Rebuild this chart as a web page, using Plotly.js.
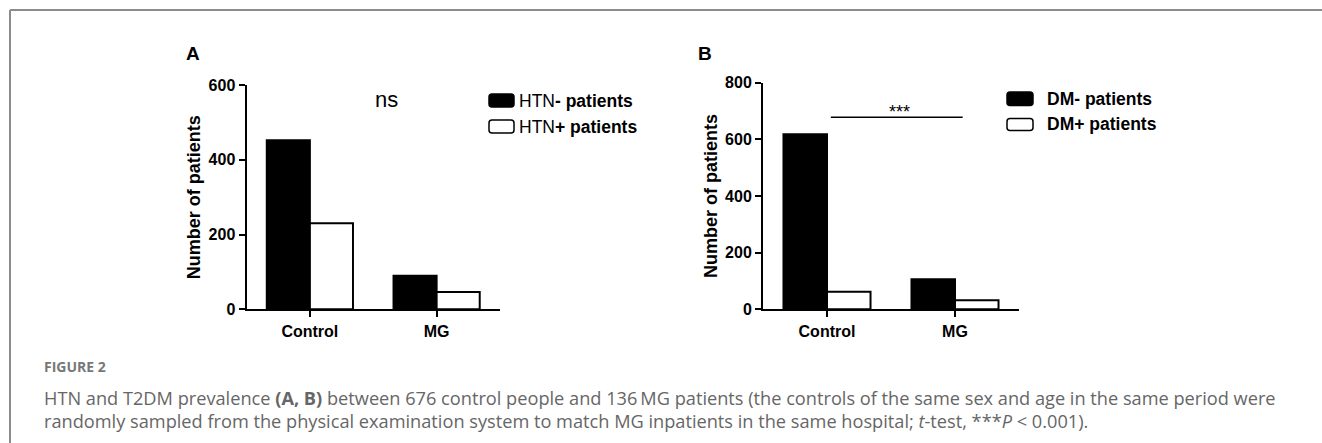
<!DOCTYPE html>
<html>
<head>
<meta charset="utf-8">
<script src="https://cdn.plot.ly/plotly-3.0.1.min.js"></script>
<style>
  html, body { margin: 0; padding: 0; background: #fff; }
  #chart { width: 1322px; height: 443px; }
</style>
</head>
<body>
<div id="chart"></div>
<script>
// ---- data ----
const categories = ['Control', 'MG'];
const htnNeg = [452, 90];
const htnPos = [230, 46];
const dmNeg = [618, 106];
const dmPos = [62, 32];
const namesA = ['HTN<b>- patients</b>', 'HTN<b>+ patients</b>'];
const namesB = ['<b>DM- patients</b>', '<b>DM+ patients</b>'];
const ticksA = [0, 200, 400, 600];
const ticksB = [0, 200, 400, 600, 800];
const panelLabels = ['A', 'B'];
const sigA = 'ns';
const sigB = '***';
const sigBSpan = [0.03, 1.06];
const sigBLevel = 678;
const yTitle = 'Number of patients';
const captionHead = 'FIGURE 2';
const captionLines = [
  'HTN and T2DM prevalence <b>(A, B)</b> between 676 control people and 136\u2009MG patients (the controls of the same sex and age in the same period were',
  'randomly sampled from the physical examination system to match MG inpatients in the same hospital; <i>t</i>-test, ***<i>P</i> &lt; 0.001).'
];

// ---- helpers (pixel -> paper) ----
const W = 1322, H = 443;
const px = v => v / W;
const py = v => 1 - v / H;
const AX = "Liberation Sans, Arial, sans-serif";
const CAP = "Open Sans, Lato, sans-serif";

function barTrace(y, name, fill, xa, ya) {
  return {
    type: 'bar', x: categories, y: y, name: name,
    xaxis: xa, yaxis: ya, showlegend: false,
    marker: { color: fill, line: { color: '#000', width: 2 } },
    hoverinfo: 'x+y'
  };
}

const data = [
  barTrace(htnNeg, namesA[0], '#000', 'x', 'y'),
  barTrace(htnPos, namesA[1], '#fff', 'x', 'y'),
  barTrace(dmNeg, namesB[0], '#000', 'x2', 'y2'),
  barTrace(dmPos, namesB[1], '#fff', 'x2', 'y2')
];

function xAxis(domain, anchor) {
  return {
    domain: domain, anchor: anchor, type: 'category', range: [-0.5, 1.5],
    showline: true, linecolor: '#000', linewidth: 2, showgrid: false, zeroline: false,
    ticks: 'outside', ticklen: 6, tickwidth: 2, tickcolor: '#000',
    tickfont: { family: AX, size: 16, color: '#000', weight: 'bold' },
    fixedrange: true
  };
}
function yAxis(domain, anchor, ticks) {
  return {
    domain: domain, anchor: anchor, range: [0, ticks[ticks.length - 1]],
    tickvals: ticks, ticktext: ticks.map(String),
    showline: true, linecolor: '#000', linewidth: 2, showgrid: false, zeroline: false,
    ticks: 'outside', ticklen: 6, tickwidth: 2, tickcolor: '#000',
    tickfont: { family: AX, size: 16, color: '#000', weight: 'bold' },
    title: { text: '<b>' + yTitle + '</b>', font: { family: AX, size: 18, color: '#000' }, standoff: 3 },
    fixedrange: true
  };
}

function roundRect(x0, y0, x1, y1, r) {
  const X0 = px(x0), X1 = px(x1), Y0 = py(y0), Y1 = py(y1);
  const rx = r / W, ry = r / H;
  return `M${X0 + rx},${Y0} L${X1 - rx},${Y0} Q${X1},${Y0} ${X1},${Y0 - ry} L${X1},${Y1 + ry} Q${X1},${Y1} ${X1 - rx},${Y1} L${X0 + rx},${Y1} Q${X0},${Y1} ${X0},${Y1 + ry} L${X0},${Y0 - ry} Q${X0},${Y0} ${X0 + rx},${Y0} Z`;
}

const shapes = [
  // outer frame
  { type: 'line', xref: 'paper', yref: 'paper', x0: px(10), x1: 1, y0: py(10), y1: py(10), line: { color: '#8c8c8c', width: 2 } },
  { type: 'line', xref: 'paper', yref: 'paper', x0: px(10), x1: px(10), y0: py(10), y1: 0, line: { color: '#8c8c8c', width: 2 } },
  // significance bar B
  { type: 'line', xref: 'x2', yref: 'y2', x0: sigBSpan[0], x1: sigBSpan[1], y0: sigBLevel, y1: sigBLevel, line: { color: '#000', width: 1.6 } },
  // legend symbols A
  { type: 'path', xref: 'paper', yref: 'paper', path: roundRect(489, 94, 514, 107, 3), fillcolor: '#000', line: { color: '#000', width: 1.5 } },
  { type: 'path', xref: 'paper', yref: 'paper', path: roundRect(489, 120, 514, 133, 3), fillcolor: '#fff', line: { color: '#000', width: 1.5 } },
  // legend symbols B
  { type: 'path', xref: 'paper', yref: 'paper', path: roundRect(1007, 92, 1033, 105.5, 3), fillcolor: '#000', line: { color: '#000', width: 1.5 } },
  { type: 'path', xref: 'paper', yref: 'paper', path: roundRect(1007, 118.5, 1033, 130.5, 3), fillcolor: '#fff', line: { color: '#000', width: 1.5 } }
];

function txt(text, x, y, opts) {
  return Object.assign({
    text: text, xref: 'paper', yref: 'paper', x: px(x), y: py(y),
    showarrow: false, xanchor: 'left', yanchor: 'middle',
    font: { family: AX, size: 18, color: '#000' }
  }, opts || {});
}

const annotations = [
  txt('<b>' + panelLabels[0] + '</b>', 193.5, 54, { xanchor: 'center', font: { family: AX, size: 19, color: '#000' } }),
  txt('<b>' + panelLabels[1] + '</b>', 705, 54, { xanchor: 'center', font: { family: AX, size: 19, color: '#000' } }),
  txt(sigA, 386.7, 100, { xanchor: 'center', font: { family: AX, size: 22, color: '#000' } }),
  txt(sigB, 899.7, 112, { xanchor: 'center', font: { family: AX, size: 18, color: '#000' } }),
  txt(namesA[0], 517, 100.5, { font: { family: AX, size: 17.5, color: '#000' } }),
  txt(namesA[1], 517, 126.5, { font: { family: AX, size: 17.5, color: '#000' } }),
  txt(namesB[0], 1044.5, 99, { font: { family: AX, size: 17.5, color: '#000' } }),
  txt(namesB[1], 1044.5, 124.5, { font: { family: AX, size: 17.5, color: '#000' } }),
  txt('<b>' + captionHead + '</b>', 42, 366, { font: { family: CAP, size: 14, color: '#777' } }),
  txt(captionLines[0], 42, 398, { font: { family: CAP, size: 18.2, color: '#666' } }),
  txt(captionLines[1], 42, 421, { font: { family: CAP, size: 18.2, color: '#666' } })
];

const layout = {
  width: W, height: H, autosize: false,
  margin: { l: 0, r: 0, t: 0, b: 0 },
  paper_bgcolor: '#fff', plot_bgcolor: '#fff',
  barmode: 'group', bargap: 0.32, bargroupgap: 0,
  showlegend: false,
  xaxis: xAxis([px(246.5), px(500)], 'y'),
  yaxis: yAxis([py(309.3), py(85)], 'x', ticksA),
  xaxis2: xAxis([px(763), px(1019)], 'y2'),
  yaxis2: yAxis([py(309.3), py(82.7)], 'x2', ticksB),
  shapes: shapes,
  annotations: annotations
};

Plotly.newPlot('chart', data, layout, { displayModeBar: false, staticPlot: true });
</script>
</body>
</html>
